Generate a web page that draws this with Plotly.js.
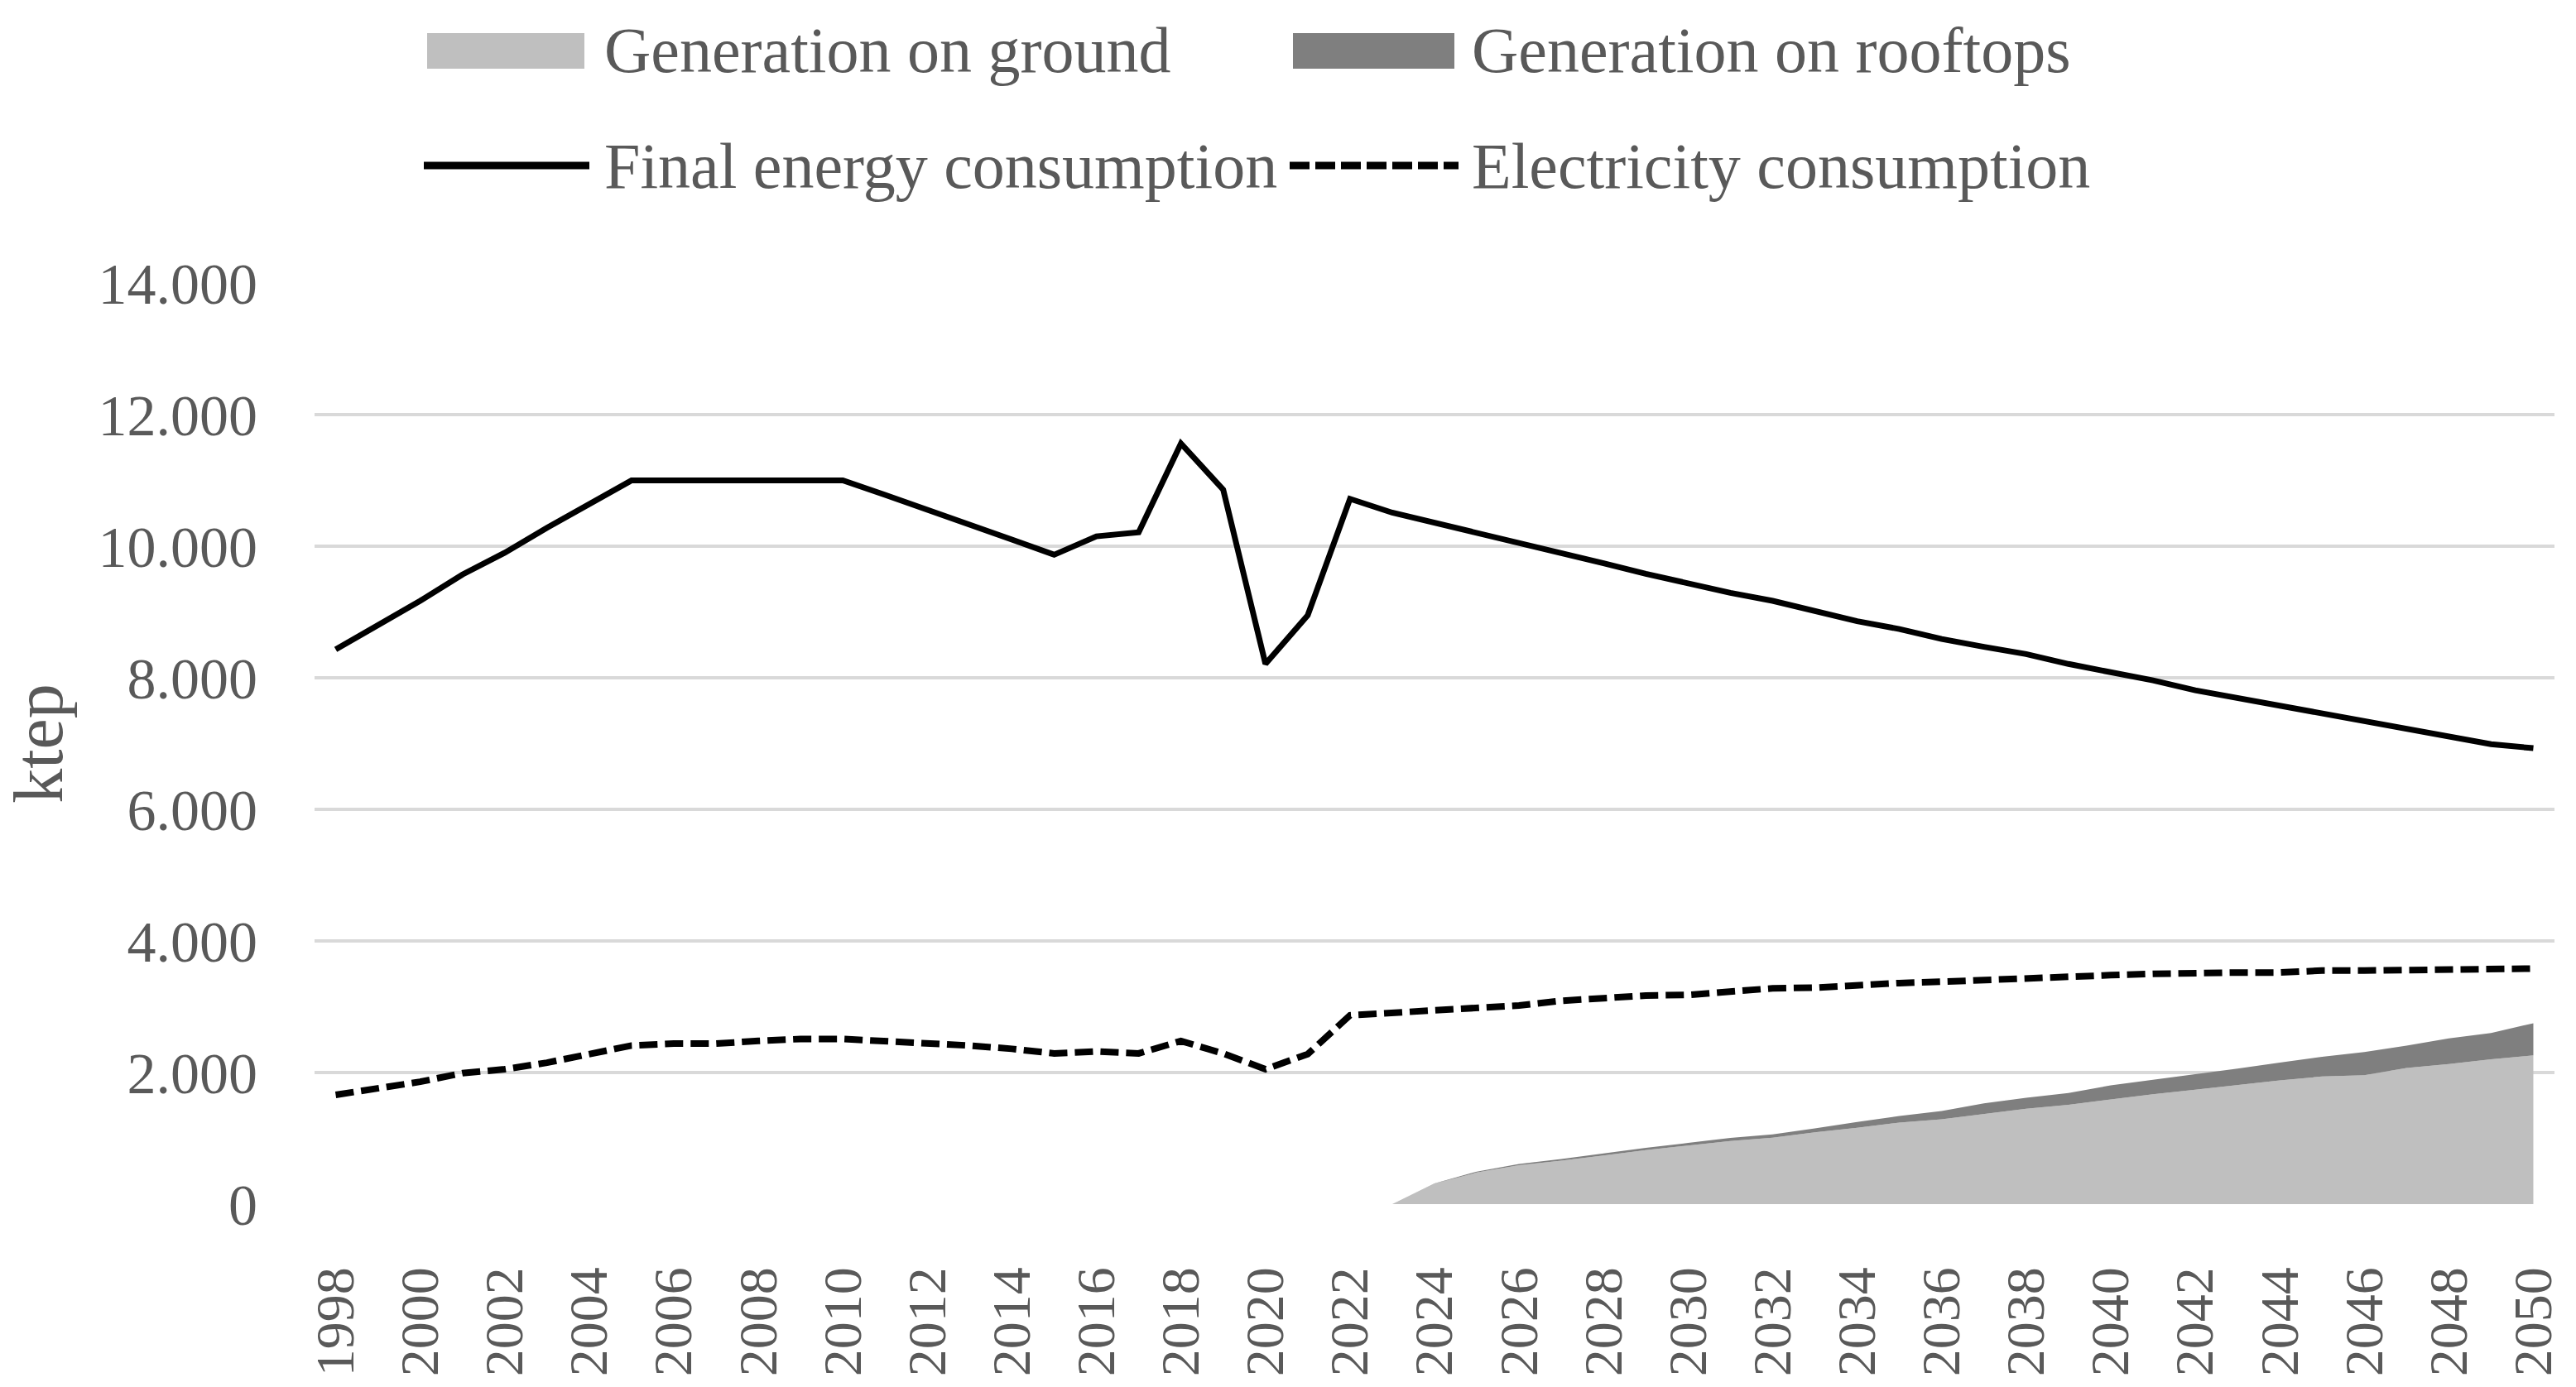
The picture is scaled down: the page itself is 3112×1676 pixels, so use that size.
<!DOCTYPE html>
<html><head><meta charset="utf-8">
<script src="https://cdn.plot.ly/plotly-3.0.1.min.js"></script>
<style>html,body{margin:0;padding:0;background:#fff}</style>
</head><body><div id="chart" style="width:3112px;height:1676px"></div>
<script>
const years = ["1998","1999","2000","2001","2002","2003","2004","2005","2006","2007","2008","2009","2010","2011","2012","2013","2014","2015","2016","2017","2018","2019","2020","2021","2022","2023","2024","2025","2026","2027","2028","2029","2030","2031","2032","2033","2034","2035","2036","2037","2038","2039","2040","2041","2042","2043","2044","2045","2046","2047","2048","2049","2050"];
const xTickLabels = ["1998","2000","2002","2004","2006","2008","2010","2012","2014","2016","2018","2020","2022","2024","2026","2028","2030","2032","2034","2036","2038","2040","2042","2044","2046","2048","2050"];
const finalEnergy = [8430,8800,9170,9570,9900,10280,10640,11000,11000,11000,11000,11000,11000,10780,10560,10330,10100,9870,10150,10210,11560,10860,8210,8950,10720,10510,10360,10200,10050,9900,9740,9580,9430,9290,9170,9010,8860,8740,8590,8470,8360,8210,8090,7960,7810,7690,7570,7450,7330,7210,7090,6990,6930];
const electricity = [1660,1750,1860,1990,2050,2150,2290,2410,2440,2440,2480,2510,2510,2480,2440,2410,2360,2290,2320,2290,2480,2290,2050,2280,2870,2910,2940,2970,3020,3090,3140,3170,3180,3240,3280,3290,3330,3360,3380,3410,3440,3460,3480,3500,3520,3520,3520,3550,3550,3560,3580,3590,3580];
const genGround = [0,0,0,0,0,0,0,0,0,0,0,0,0,0,0,0,0,0,0,0,0,0,0,0,0,0,310,480,590,660,740,820,890,960,1010,1090,1160,1240,1290,1370,1450,1510,1590,1670,1740,1810,1880,1940,1960,2070,2130,2200,2260];
const genRooftops = [0,0,0,0,0,0,0,0,0,0,0,0,0,0,0,0,0,0,0,0,0,0,0,0,0,0,5,15,20,25,30,35,40,45,50,60,90,100,125,160,165,180,215,220,230,250,270,300,350,340,390,400,490];
const yTickVals = [0,2000,4000,6000,8000,10000,12000,14000];
const yTickText = ["0","2.000","4.000","6.000","8.000","10.000","12.000","14.000"];
const seriesNames = ["Generation on ground","Generation on rooftops","Final energy consumption","Electricity consumption"];

const W = 3112, H = 1676, ML = 380, MR = 26, MT = 342, MB = 221;
const PW = W - ML - MR, PH = H - MT - MB;
const px2x = p => (p - ML) / PW;
const px2y = p => (H - MB - p) / PH;

const FONT = "Liberation Serif";
const TXT = "#595959";

const traces = [
  {x: years, y: genGround, name: seriesNames[0], type: "scatter", mode: "lines",
   stackgroup: "gen", line: {width: 0, color: "#BFBFBF"}, fillcolor: "#BFBFBF", showlegend: false, hoverinfo: "skip"},
  {x: years, y: genRooftops, name: seriesNames[1], type: "scatter", mode: "lines",
   stackgroup: "gen", line: {width: 0, color: "#7F7F7F"}, fillcolor: "#7F7F7F", showlegend: false, hoverinfo: "skip"},
  {x: years, y: finalEnergy, name: seriesNames[2], type: "scatter", mode: "lines",
   line: {color: "#000000", width: 7}, showlegend: false},
  {x: years, y: electricity, name: seriesNames[3], type: "scatter", mode: "lines",
   line: {color: "#000000", width: 8, dash: "22px,9px"}, showlegend: false}
];

// manual legend (layout elements, pixel layout converted to paper units)
const row1 = 61, row2 = 200;
const shapes = [
  {type: "rect", xref: "paper", yref: "paper", x0: px2x(516), x1: px2x(706), y0: px2y(83), y1: px2y(40), fillcolor: "#BFBFBF", line: {width: 0}},
  {type: "rect", xref: "paper", yref: "paper", x0: px2x(1562), x1: px2x(1757), y0: px2y(83), y1: px2y(40), fillcolor: "#7F7F7F", line: {width: 0}},
  {type: "line", xref: "paper", yref: "paper", x0: px2x(512), x1: px2x(712), y0: px2y(row2), y1: px2y(row2), line: {color: "#000", width: 9}},
  {type: "line", xref: "paper", yref: "paper", x0: px2x(1558), x1: px2x(1762), y0: px2y(row2), y1: px2y(row2), line: {color: "#000", width: 9, dash: "24px,7px"}}
];
const legFont = {family: FONT, size: 78, color: TXT};
const annotations = [
  {xref: "paper", yref: "paper", x: px2x(728), y: px2y(row1), text: seriesNames[0], showarrow: false, xanchor: "left", yanchor: "middle", font: legFont},
  {xref: "paper", yref: "paper", x: px2x(1776), y: px2y(row1), text: seriesNames[1], showarrow: false, xanchor: "left", yanchor: "middle", font: legFont},
  {xref: "paper", yref: "paper", x: px2x(728), y: px2y(row2), text: seriesNames[2], showarrow: false, xanchor: "left", yanchor: "middle", font: legFont},
  {xref: "paper", yref: "paper", x: px2x(1776), y: px2y(row2), text: seriesNames[3], showarrow: false, xanchor: "left", yanchor: "middle", font: legFont}
];

const layout = {
  width: W, height: H,
  margin: {l: ML, r: MR, t: MT, b: MB, pad: 0},
  paper_bgcolor: "#fff", plot_bgcolor: "#fff",
  font: {family: FONT, color: TXT},
  showlegend: false,
  xaxis: {
    type: "category", categoryarray: years, range: [-0.5, years.length - 0.5],
    tickmode: "array", tickvals: xTickLabels, ticktext: xTickLabels,
    tickangle: -90, tickfont: {family: FONT, size: 66, color: TXT},
    showgrid: false, zeroline: false, showline: false, ticks: "",
    ticklabelstandoff: 62, fixedrange: true
  },
  yaxis: {
    range: [0, 14000], tickmode: "array", tickvals: yTickVals, ticktext: yTickText,
    tickfont: {family: FONT, size: 70, color: TXT},
    showgrid: true, gridcolor: "#D9D9D9", gridwidth: 4,
    zeroline: false, showline: false, ticks: "", ticklabelstandoff: 68,
    title: {text: "ktep", font: {family: FONT, size: 84, color: TXT}, standoff: 26},
    fixedrange: true
  },
  shapes: shapes,
  annotations: annotations
};

Plotly.newPlot("chart", traces, layout, {displayModeBar: false, staticPlot: true});
</script></body></html>
